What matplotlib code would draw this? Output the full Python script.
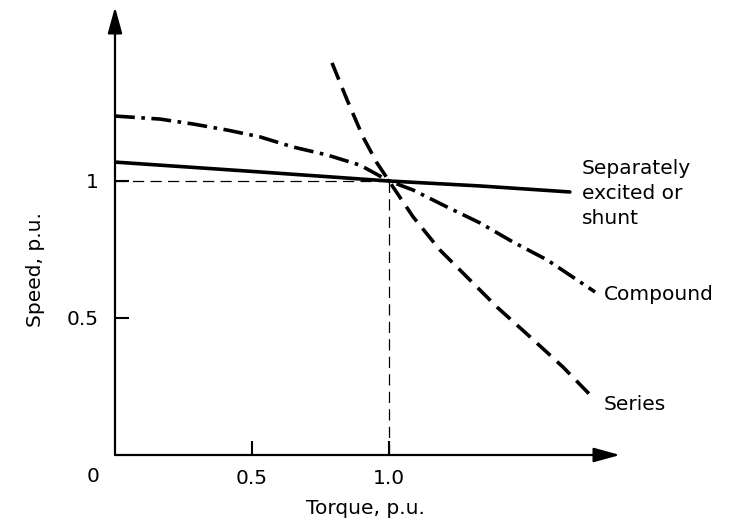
import matplotlib
matplotlib.use("Agg")
import matplotlib.pyplot as plt

# values (torque p.u., speed p.u.)
shunt_torque = [0.0, 0.5, 1.0, 1.33, 1.66]
shunt_speed = [1.069, 1.035, 1.0, 0.982, 0.960]

compound_torque = [0.0, 0.164, 0.285, 0.409, 0.529, 0.650, 0.774, 0.894, 1.0,
                   1.088, 1.212, 1.332, 1.453, 1.577, 1.752]
compound_speed = [1.237, 1.226, 1.208, 1.186, 1.161, 1.124, 1.095, 1.058, 1.0,
                  0.967, 0.905, 0.847, 0.777, 0.712, 0.595]

series_torque = [0.792, 0.847, 0.905, 0.956, 1.0, 1.088, 1.186, 1.270, 1.394,
                 1.515, 1.635, 1.745]
series_speed = [1.431, 1.296, 1.161, 1.066, 1.0, 0.869, 0.748, 0.664, 0.540,
                0.431, 0.321, 0.208]

rated_point = (1.0, 1.0)
x_ticks = [0.5, 1.0]
x_tick_labels = ["0.5", "1.0"]
y_ticks = [0.5, 1.0]
y_tick_labels = ["0.5", "1"]

plt.rcParams["font.family"] = "DejaVu Sans"
fs = 14.5

fig = plt.figure(figsize=(7.29, 5.23), dpi=100)
ax = fig.add_axes([115 / 729, 68 / 523, 505 / 729, 448 / 523])
xmax, ymax = 1.843, 1.635
ax.set_xlim(0, xmax)
ax.set_ylim(0, ymax)

for s in ax.spines.values():
    s.set_visible(False)

# axes with arrow heads
arrow = dict(arrowstyle="-|>,head_length=0.8,head_width=0.22", lw=1.6, color="k",
             mutation_scale=20, shrinkA=0, shrinkB=0)
ax.annotate("", xy=(xmax, 0), xytext=(0, 0), arrowprops=arrow, annotation_clip=False)
ax.annotate("", xy=(0, ymax), xytext=(0, 0), arrowprops=arrow, annotation_clip=False)

# guide lines to the rated point
ax.plot([0, rated_point[0]], [rated_point[1]] * 2, color="k", lw=0.9, dashes=(9, 5))
ax.plot([rated_point[0]] * 2, [0, rated_point[1]], color="k", lw=0.9, dashes=(9, 5))

ax.plot(shunt_torque, shunt_speed, color="k", lw=2.6, solid_capstyle="round")
ax.plot(compound_torque, compound_speed, color="k", lw=2.6, dashes=(5.5, 1.8, 1.0, 1.8))
ax.plot(series_torque, series_speed, color="k", lw=2.6, dashes=(5, 2.5))

ax.text(1.704, 0.956, "Separately\nexcited or\nshunt", fontsize=fs, ha="left",
        va="center", linespacing=1.4)
ax.text(1.785, 0.584, "Compound", fontsize=fs, ha="left", va="center")
ax.text(1.785, 0.186, "Series", fontsize=fs, ha="left", va="center")

ax.set_xticks(x_ticks)
ax.set_xticklabels(x_tick_labels, fontsize=fs)
ax.set_yticks(y_ticks)
ax.set_yticklabels(y_tick_labels, fontsize=fs)
ax.tick_params(direction="in", length=10, width=1.5, pad=10)
ax.tick_params(axis="y", pad=12)
ax.text(-0.08, -0.08, "0", fontsize=fs, ha="center", va="center")

ax.set_xlabel("Torque, p.u.", fontsize=fs)
ax.xaxis.set_label_coords(0.495, -0.098)
ax.set_ylabel("Speed, p.u.", fontsize=fs)
ax.yaxis.set_label_coords(-0.138, 0.413)

fig.savefig("out.png", dpi=100)
